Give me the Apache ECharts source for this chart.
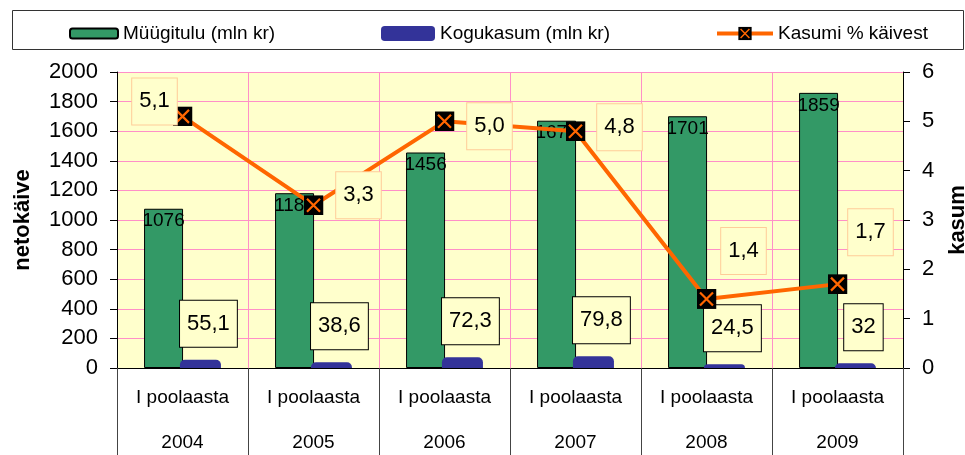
<!DOCTYPE html>
<html>
<head>
<meta charset="utf-8">
<script src="https://cdn.jsdelivr.net/npm/echarts@6/dist/echarts.min.js"></script>
<style>
	html, body { margin: 0; padding: 0; background: #fff; }
	#chart { width: 965px; height: 455px; }
</style>
</head>
<body>
<div id="chart"></div>
<script>
// andmed
var periods = ['I poolaasta', 'I poolaasta', 'I poolaasta', 'I poolaasta', 'I poolaasta', 'I poolaasta'];
var years = ['2004', '2005', '2006', '2007', '2008', '2009'];
var sales = [1076, 1181, 1456, 1671, 1701, 1859];       // Müügitulu (mln kr)
var profit = [55.1, 38.6, 72.3, 79.8, 24.5, 32];        // Kogukasum (mln kr)
var margin = [5.1, 3.3, 5.0, 4.8, 1.4, 1.7];            // Kasumi % käivest
var leftTicks = [0, 2000, 200];
var rightTicks = [0, 6, 1];

// käsitsi paigutatud sildid (nagu Excelis)
var marginLabelShift = [[-28, -15], [45, -10], [45, 5], [44, -4], [37, -48], [33, -52]];

var FONT = 'Arial, "Liberation Sans", sans-serif';
var markSvg = "<svg xmlns='http://www.w3.org/2000/svg' width='20' height='20'>" +
	"<rect width='20' height='20' fill='#000'/>" +
	"<path d='M3.5 3.5L16.5 16.5M16.5 3.5L3.5 16.5' stroke='#FF6600' stroke-width='2.2'/></svg>";
var markSymbol = 'image://data:image/svg+xml;charset=utf-8,' + encodeURIComponent(markSvg);

var myChart = echarts.init(document.getElementById('chart'));

var marginData = [];
for (var i = 0; i < margin.length; i++) {
	marginData.push({
		value: margin[i],
		label: { offset: marginLabelShift[i] }
	});
}

var legendText = { color: '#000', fontSize: 19, fontFamily: FONT };

var option = {
	animation: false,
	backgroundColor: '#fff',
	graphic: [{
		type: 'rect',
		shape: { x: 12.5, y: 10.5, width: 951, height: 39 },
		style: { fill: 'none', stroke: '#333', lineWidth: 1 },
		z: 0
	}],
	legend: [
		{ data: ['Müügitulu (mln kr)'], left: 64, top: 19, itemWidth: 48, itemHeight: 10, itemGap: 0, textStyle: legendText },
		{ data: ['Kogukasum (mln kr)'], left: 376, top: 19, itemWidth: 54, itemHeight: 15, itemGap: 0, textStyle: legendText },
		{
			data: ['Kasumi % käivest'], left: 710, top: 19, itemWidth: 56, itemHeight: 17, itemGap: 0,
			textStyle: legendText,
			lineStyle: { width: 4, color: '#FF6600' }
		}
	],
	grid: {
		left: 117, right: 62, top: 72, bottom: 87,
		outerBoundsMode: 'none',
		containLabel: false,
		show: true, backgroundColor: '#FFFFCC', borderWidth: 0
	},
	xAxis: [{
		type: 'category',
		data: periods,
		position: 'bottom',
		boundaryGap: true,
		axisLine: { lineStyle: { color: '#000', width: 1 } },
		axisTick: { show: true, length: 87, alignWithLabel: false, lineStyle: { color: '#444' } },
		axisLabel: { color: '#000', fontSize: 19, fontFamily: FONT, margin: 20 },
		splitLine: { show: true, lineStyle: { color: '#FF8FC8', width: 1 } }
	}, {
		type: 'category',
		data: years,
		position: 'bottom',
		axisLine: { show: false },
		axisTick: { show: false },
		axisLabel: { color: '#000', fontSize: 19, fontFamily: FONT, margin: 65 },
		splitLine: { show: false }
	}],
	yAxis: [{
		type: 'value',
		min: leftTicks[0], max: leftTicks[1], interval: leftTicks[2],
		name: 'netokäive',
		nameLocation: 'middle',
		nameGap: 83,
		nameRotate: 90,
		nameTextStyle: { color: '#000', fontSize: 22, fontWeight: 'bold', fontFamily: FONT },
		axisLine: { show: true, lineStyle: { color: '#000', width: 1 } },
		axisTick: { show: true, length: 7, lineStyle: { color: '#000' } },
		axisLabel: {
			color: '#000', fontSize: 22, fontFamily: FONT, margin: 19,
			formatter: function (v) { return String(v); }
		},
		splitLine: { show: true, lineStyle: { color: '#FF8FC8', width: 1 } }
	}, {
		type: 'value',
		position: 'right',
		min: rightTicks[0], max: rightTicks[1], interval: rightTicks[2],
		name: 'kasum',
		nameLocation: 'middle',
		nameGap: 44,
		nameRotate: 90,
		nameTextStyle: { color: '#000', fontSize: 22, fontWeight: 'bold', fontFamily: FONT },
		axisLine: { show: true, lineStyle: { color: '#000', width: 1 } },
		axisTick: { show: true, length: 7, lineStyle: { color: '#000' } },
		axisLabel: { color: '#000', fontSize: 22, fontFamily: FONT, margin: 19 },
		splitLine: { show: false }
	}],
	series: [{
		name: 'Müügitulu (mln kr)',
		type: 'bar',
		data: sales,
		barWidth: 39,
		barGap: '-8%',
		itemStyle: { color: '#339966', borderColor: '#000', borderWidth: 1 },
		label: {
			show: true,
			position: 'insideTop',
			distance: 3,
			color: '#000',
			fontSize: 19,
			fontFamily: FONT
		},
		z: 2
	}, {
		name: 'Kogukasum (mln kr)',
		type: 'bar',
		data: profit,
		barWidth: 41,
		itemStyle: { color: '#333399', borderRadius: [5, 5, 0, 0] },
		label: {
			show: true,
			position: 'top',
			distance: 13,
			offset: [8, 0],
			color: '#000',
			fontSize: 22,
			fontFamily: FONT,
			lineHeight: 24,
			backgroundColor: '#FFFFCC',
			borderColor: '#000',
			borderWidth: 1,
			padding: [11, 7],
			formatter: function (p) { return String(p.value).replace('.', ','); }
		},
		z: 3
	}, {
		name: 'Kasumi % käivest',
		type: 'line',
		yAxisIndex: 1,
		data: marginData,
		symbol: markSymbol,
		symbolSize: 20,
		lineStyle: { color: '#FF6600', width: 4 },
		itemStyle: { color: '#FF6600' },
		label: {
			show: true,
			position: 'inside',
			color: '#000',
			fontSize: 22,
			fontFamily: FONT,
			lineHeight: 24,
			backgroundColor: '#FFFFCC',
			borderColor: '#FFCC99',
			borderWidth: 1,
			padding: [11, 7],
			formatter: function (p) { return p.value.toFixed(1).replace('.', ','); }
		},
		z: 5
	}]
};

myChart.setOption(option);
</script>
</body>
</html>
